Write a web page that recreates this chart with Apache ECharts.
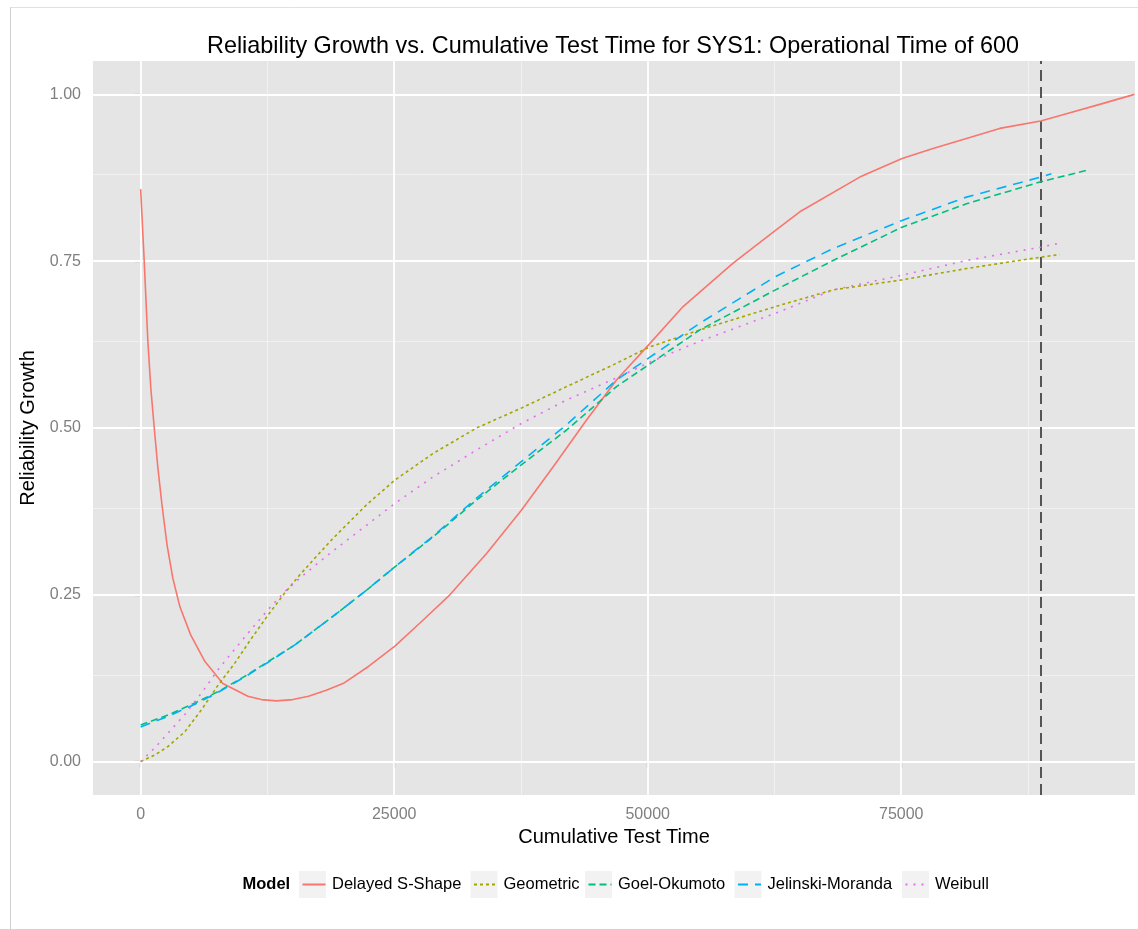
<!DOCTYPE html>
<html>
<head>
<meta charset="utf-8">
<script src="https://cdn.jsdelivr.net/npm/echarts@6/dist/echarts.min.js"></script>
<style>
html,body{margin:0;padding:0;background:#fff;}
#chart{width:1138px;height:929px;}
</style>
</head>
<body>
<div id="chart"></div>
<script>
// ---- data ----
const modelNames = ['Delayed S-Shape', 'Geometric', 'Goel-Okumoto', 'Jelinski-Moranda', 'Weibull'];

const delayedX = [0, 350, 710, 1000, 1340, 1700, 2100, 2600, 3170, 3870, 4930, 6340, 8100, 10570, 11900, 13380, 15000, 16550, 18300, 20070, 22500, 25070, 27700, 30490, 34110, 37560, 40680, 43970, 46920, 50110, 53490, 58420, 62600, 65000, 70910, 75080, 78130, 81430, 84710, 88750, 91290, 94570, 98000];
const delayedY = [0.858, 0.750, 0.630, 0.560, 0.500, 0.440, 0.385, 0.325, 0.275, 0.232, 0.190, 0.150, 0.117, 0.098, 0.093, 0.091, 0.093, 0.098, 0.107, 0.118, 0.143, 0.173, 0.210, 0.250, 0.312, 0.377, 0.442, 0.512, 0.572, 0.625, 0.682, 0.747, 0.796, 0.824, 0.876, 0.904, 0.919, 0.934, 0.949, 0.960, 0.971, 0.985, 1.000];

const geometricX = [0, 1410, 2720, 4370, 6010, 7650, 9300, 10940, 12580, 14220, 15700, 17180, 18990, 22280, 25070, 28850, 33120, 37560, 42000, 46920, 50110, 55140, 62600, 68280, 75080, 81430, 88750, 90620];
const geometricY = [0.000, 0.010, 0.023, 0.045, 0.078, 0.115, 0.148, 0.185, 0.220, 0.253, 0.280, 0.305, 0.335, 0.385, 0.422, 0.462, 0.500, 0.530, 0.562, 0.597, 0.621, 0.647, 0.682, 0.707, 0.722, 0.739, 0.756, 0.760];

const goelX = [0, 2720, 5350, 7650, 10280, 12580, 15210, 18990, 22280, 25070, 28850, 33120, 37560, 42000, 45280, 46920, 50110, 55140, 62600, 68280, 75080, 81430, 88750, 93260];
const goelY = [0.055, 0.070, 0.088, 0.105, 0.128, 0.150, 0.175, 0.218, 0.257, 0.292, 0.337, 0.392, 0.445, 0.497, 0.540, 0.562, 0.595, 0.647, 0.707, 0.751, 0.801, 0.836, 0.869, 0.886];

const jelinskiX = [0, 2720, 5350, 7650, 10280, 12580, 15210, 18990, 22280, 25070, 28850, 33120, 37560, 42000, 46920, 50110, 55140, 62600, 68280, 75080, 81430, 88750, 89800];
const jelinskiY = [0.052, 0.068, 0.086, 0.104, 0.127, 0.149, 0.175, 0.218, 0.257, 0.292, 0.338, 0.395, 0.450, 0.505, 0.572, 0.605, 0.657, 0.727, 0.769, 0.811, 0.846, 0.876, 0.881];

const weibullX = [0, 1410, 2720, 4370, 6010, 7650, 9300, 10940, 12580, 14220, 15700, 17840, 18990, 25070, 28850, 33120, 37560, 42000, 46920, 50110, 55140, 62600, 68280, 75080, 81430, 88750, 90620];
const weibullY = [0.000, 0.021, 0.043, 0.071, 0.103, 0.138, 0.169, 0.199, 0.228, 0.255, 0.275, 0.302, 0.316, 0.387, 0.427, 0.467, 0.507, 0.542, 0.575, 0.598, 0.630, 0.672, 0.707, 0.729, 0.751, 0.771, 0.777];

const operationalCutoff = 88750;

const xTickValues = [0, 25000, 50000, 75000];
const xMinorValues = [12500, 37500, 62500, 87500];
const yTickValues = [0, 0.25, 0.5, 0.75, 1.0];
const yMinorValues = [0.125, 0.375, 0.625, 0.875];

// ---- styling ----
const FONT = "'Liberation Sans', Arial, Helvetica, sans-serif";
const colors = ['#F8766D', '#A3A500', '#00BF7D', '#00B0F6', '#E76BF3'];
const dashes = ['solid', [3, 3], [7, 4], [10, 7], [2, 6]];
const legendBoxLeft = [299, 470.5, 585, 734.5, 902];
const legendCenterY = 884.5;

function zip(xs, ys) { return xs.map((x, i) => [x, ys[i]]); }
const seriesData = [
  zip(delayedX, delayedY),
  zip(geometricX, geometricY),
  zip(goelX, goelY),
  zip(jelinskiX, jelinskiY),
  zip(weibullX, weibullY)
];

const chart = echarts.init(document.getElementById('chart'), null, {renderer: 'canvas'});

const gridLineSeries = {
  name: '__grid', type: 'line', data: [], silent: true, z: 1,
  markLine: {
    silent: true, symbol: 'none', animation: false,
    label: {show: false},
    emphasis: {disabled: true},
    data: [
      ...xMinorValues.map(v => ({xAxis: v, lineStyle: {color: '#F2F2F2', width: 0.9, type: 'solid'}})),
      ...yMinorValues.map(v => ({yAxis: v, lineStyle: {color: '#F2F2F2', width: 0.9, type: 'solid'}})),
      ...xTickValues.map(v => ({xAxis: v, lineStyle: {color: '#FFFFFF', width: 1.8, type: 'solid'}})),
      ...yTickValues.map(v => ({yAxis: v, lineStyle: {color: '#FFFFFF', width: 1.8, type: 'solid'}}))
    ]
  }
};

const cutoffSeries = {
  name: '__cutoff', type: 'line', data: [], silent: true, z: 10,
  markLine: {
    silent: true, symbol: 'none', animation: false,
    label: {show: false},
    emphasis: {disabled: true},
    lineStyle: {color: '#555555', width: 2, type: [11, 6]},
    data: [{xAxis: operationalCutoff}]
  }
};

const modelSeries = modelNames.map((name, i) => ({
  name: name,
  type: 'line',
  data: seriesData[i],
  showSymbol: false,
  symbol: 'none',
  smooth: false,
  z: 5,
  lineStyle: {color: colors[i], width: 1.6, type: dashes[i], join: 'round'},
  itemStyle: {color: colors[i]},
  emphasis: {disabled: true}
}));

const legends = modelNames.map((name, i) => ({
  data: [name],
  left: legendBoxLeft[i] + 2.5,
  top: legendCenterY - 10,
  padding: 0,
  itemWidth: 23,
  itemHeight: 14,
  selectedMode: false,
  itemStyle: {opacity: 0, color: 'rgba(0,0,0,0)', borderWidth: 0},
  textStyle: {fontFamily: FONT, fontSize: 16.5, color: '#000', lineHeight: 20, padding: [0, 0, 0, 1.5]}
}));

const option = {
  animation: false,
  backgroundColor: '#ffffff',
  title: {
    text: 'Reliability Growth vs. Cumulative Test Time for SYS1: Operational Time of 600',
    left: 207, top: 35, padding: 0,
    textStyle: {fontFamily: FONT, fontSize: 23.4, fontWeight: 'normal', color: '#000'}
  },
  legend: legends,
  grid: {
    left: 93, right: 3, top: 61, bottom: 134,
    show: true, backgroundColor: '#E5E5E5', borderWidth: 0
  },
  xAxis: {
    type: 'value',
    min: -4700, max: 98050,
    name: 'Cumulative Test Time',
    nameLocation: 'middle', nameGap: 25,
    nameTextStyle: {fontFamily: FONT, fontSize: 20, color: '#000'},
    axisLine: {show: false},
    axisTick: {show: true, inside: false, length: 6, customValues: xTickValues, lineStyle: {color: '#7F7F7F', width: 1.2}},
    axisLabel: {show: true, margin: 12, customValues: xTickValues, fontFamily: FONT, fontSize: 16, color: '#7F7F7F',
      formatter: v => String(v)},
    splitLine: {show: false},
    minorSplitLine: {show: false}
  },
  yAxis: {
    type: 'value',
    min: -0.05, max: 1.05,
    name: 'Reliability Growth',
    nameLocation: 'middle', nameGap: 38,
    nameTextStyle: {fontFamily: FONT, fontSize: 20, color: '#000'},
    axisLine: {show: false},
    axisTick: {show: true, inside: false, length: 6, customValues: yTickValues, lineStyle: {color: '#7F7F7F', width: 1.2}},
    axisLabel: {show: true, margin: 12, customValues: yTickValues, fontFamily: FONT, fontSize: 16, color: '#7F7F7F',
      formatter: v => Number(v).toFixed(2)},
    splitLine: {show: false},
    minorSplitLine: {show: false}
  },
  graphic: [
    {type: 'line', shape: {x1: 10.5, y1: 7, x2: 10.5, y2: 929}, style: {stroke: '#CFCFCF', lineWidth: 1}, silent: true},
    {type: 'line', shape: {x1: 10.5, y1: 7.5, x2: 1138, y2: 7.5}, style: {stroke: '#E0E0E0', lineWidth: 1}, silent: true},
    {type: 'text', x: 242.5, y: legendCenterY, silent: true,
      style: {text: 'Model', font: "bold 16.5px 'Liberation Sans', Arial, sans-serif", fill: '#000', textVerticalAlign: 'middle', textAlign: 'left'}},
    ...legendBoxLeft.map(x => ({type: 'rect', z: 0, silent: true,
      shape: {x: x, y: legendCenterY - 13.5, width: 27, height: 27},
      style: {fill: '#F2F2F2'}}))
  ],
  series: [gridLineSeries, ...modelSeries, cutoffSeries]
};

chart.setOption(option);
</script>
</body>
</html>
